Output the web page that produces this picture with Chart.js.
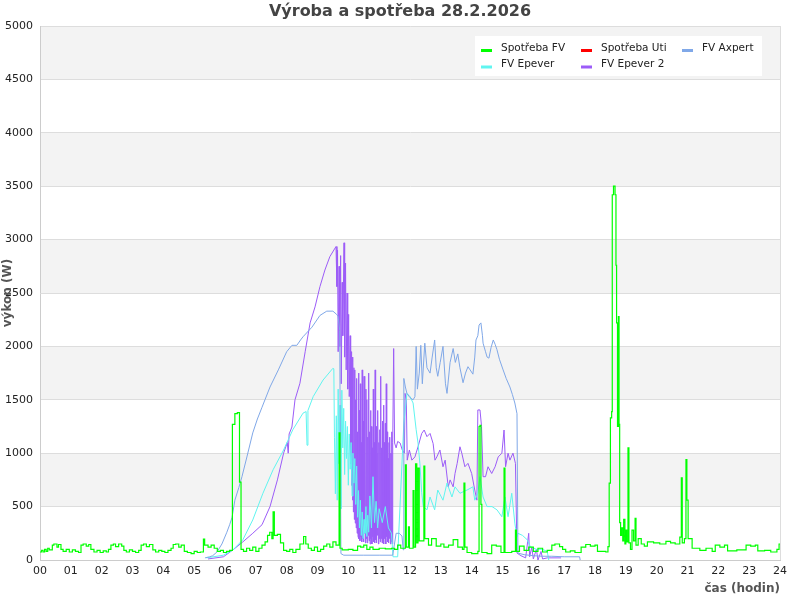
<!DOCTYPE html>
<html lang="cs">
<head>
<meta charset="utf-8">
<title>Výroba a spotřeba 28.2.2026</title>
<script src="https://cdn.jsdelivr.net/npm/chart.js@4.4.1/dist/chart.umd.min.js"></script>
<style>
  html, body { margin: 0; padding: 0; background: #fff; }
  #myChart { display: block; }
</style>
</head>
<body>
<canvas id="myChart" width="800" height="600"></canvas>
<script>
const ctx = document.querySelector('#myChart');

const CHART_TITLE = 'Výroba a spotřeba 28.2.2026';
const Y_TITLE = 'výkon (W)';
const X_TITLE = 'čas (hodin)';

const hourLabels = ['00', '01', '02', '03', '04', '05', '06', '07', '08', '09', '10', '11', '12',
  '13', '14', '15', '16', '17', '18', '19', '20', '21', '22', '23', '24'];

const seriesLabels = ['Spotřeba FV', 'Spotřeba Uti', 'FV Axpert', 'FV Epever', 'FV Epever 2'];

// Spotřeba FV (time in hours, W)
const fvTimes = [
  0.00, 0.05, 0.10, 0.15, 0.20, 0.25, 0.30, 0.40, 0.45, 0.55,
  0.60, 0.68, 0.75, 0.85, 0.95, 1.05, 1.15, 1.25, 1.33, 1.40,
  1.50, 1.58, 1.65, 1.75, 1.85, 1.95, 2.05, 2.15, 2.22, 2.30,
  2.38, 2.45, 2.55, 2.65, 2.72, 2.80, 2.90, 3.00, 3.10, 3.20,
  3.28, 3.36, 3.45, 3.55, 3.66, 3.75, 3.85, 3.95, 4.05, 4.15,
  4.25, 4.32, 4.40, 4.50, 4.58, 4.68, 4.78, 4.90, 5.00, 5.10,
  5.20, 5.30, 5.34, 5.45, 5.55, 5.65, 5.75, 5.85, 5.95, 6.05,
  6.15, 6.24, 6.32, 6.40, 6.47, 6.52, 6.60, 6.70, 6.80, 6.90,
  7.00, 7.10, 7.20, 7.30, 7.38, 7.45, 7.52, 7.56, 7.60, 7.70,
  7.80, 7.90, 8.00, 8.10, 8.20, 8.30, 8.43, 8.55, 8.62, 8.70,
  8.80, 8.90, 9.00, 9.10, 9.20, 9.30, 9.40, 9.50, 9.60, 9.70,
  9.73, 9.80, 10.00, 10.15, 10.30, 10.40, 10.50, 10.60, 10.70, 10.80,
  11.00, 11.20, 11.40, 11.50, 11.60, 11.70, 11.85, 11.88, 11.95, 11.98,
  12.10, 12.13, 12.18, 12.22, 12.26, 12.30, 12.45, 12.48, 12.60, 12.70,
  12.85, 13.00, 13.10, 13.25, 13.40, 13.55, 13.70, 13.75, 13.78, 13.85,
  14.00, 14.20, 14.24, 14.27, 14.30, 14.33, 14.50, 14.65, 14.80, 14.95,
  15.05, 15.08, 15.30, 15.42, 15.45, 15.55, 15.70, 15.85, 16.00, 16.15,
  16.30, 16.45, 16.60, 16.70, 16.85, 16.95, 17.05, 17.20, 17.35, 17.55,
  17.70, 17.85, 18.00, 18.08, 18.35, 18.42, 18.46, 18.50, 18.54, 18.56,
  18.60, 18.65, 18.68, 18.70, 18.73, 18.76, 18.78, 18.80, 18.83, 18.86,
  18.90, 18.93, 18.97, 19.00, 19.03, 19.07, 19.10, 19.15, 19.20, 19.25,
  19.30, 19.33, 19.40, 19.50, 19.60, 19.70, 19.90, 20.10, 20.30, 20.45,
  20.60, 20.75, 20.80, 20.83, 20.90, 20.95, 20.98, 21.02, 21.15, 21.40,
  21.60, 21.80, 21.90, 22.05, 22.20, 22.30, 22.60, 22.90, 23.05, 23.20,
  23.28, 23.50, 23.70, 23.90, 23.97, 24.00,
];
const fvValues = [
  75, 90, 75, 100, 80, 110, 95, 140, 150, 120,
  145, 100, 80, 100, 75, 95, 80, 70, 140, 150,
  130, 145, 100, 75, 90, 70, 85, 75, 100, 140,
  150, 125, 150, 130, 90, 75, 95, 80, 70, 90,
  140, 150, 125, 145, 95, 75, 90, 80, 70, 90,
  110, 145, 150, 120, 140, 80, 70, 60, 80, 70,
  75, 196, 140, 120, 140, 110, 80, 90, 70, 80,
  90, 1270, 1370, 1380, 730, 100, 80, 110, 90, 120,
  80, 110, 140, 170, 230, 260, 200, 450, 230, 240,
  160, 90, 80, 100, 70, 100, 150, 220, 150, 110,
  90, 120, 80, 100, 130, 150, 120, 170, 140, 1190,
  110, 95, 100, 90, 130, 120, 140, 100, 120, 100,
  110, 105, 110, 100, 140, 110, 890, 120, 310, 110,
  650, 120, 900, 160, 860, 180, 880, 200, 140, 200,
  130, 150, 120, 140, 190, 120, 100, 720, 120, 70,
  60, 80, 1250, 1260, 520, 70, 60, 140, 130, 70,
  860, 70, 80, 280, 80, 130, 90, 120, 80, 110,
  75, 90, 140, 150, 125, 100, 75, 85, 70, 120,
  145, 130, 140, 80, 75, 125, 720, 1330, 1390, 3420,
  3500, 3420, 2760, 2220, 1250, 2280, 1270, 350, 230, 300,
  180, 380, 150, 280, 170, 1050, 160, 100, 280, 180,
  390, 140, 200, 150, 130, 170, 160, 150, 175, 160,
  150, 215, 770, 160, 200, 940, 560, 200, 110, 90,
  110, 80, 140, 120, 140, 85, 95, 140, 130, 140,
  85, 90, 75, 100, 150, 150,
];

// Spotřeba Uti has no readings this day
const utiTimes = [];
const utiValues = [];

// FV Axpert
const axpertTimes = [
  5.35, 5.50, 5.60, 5.74, 5.90, 6.06, 6.15, 6.23, 6.32, 6.45,
  6.55, 6.71, 6.90, 7.05, 7.20, 7.46, 7.73, 8.00, 8.17, 8.33,
  8.45, 8.53, 8.82, 9.08, 9.30, 9.50, 9.62, 9.67, 9.72, 9.76,
  9.85, 10.50, 11.00, 11.44, 11.48, 11.55, 11.65, 11.74, 11.78, 11.80,
  11.85, 11.90, 12.00, 12.10, 12.16, 12.20, 12.24, 12.30, 12.35, 12.40,
  12.48, 12.55, 12.65, 12.72, 12.80, 12.85, 12.90, 12.98, 13.07, 13.15,
  13.20, 13.30, 13.40, 13.47, 13.55, 13.62, 13.72, 13.80, 13.88, 13.95,
  14.04, 14.10, 14.14, 14.20, 14.24, 14.30, 14.35, 14.37, 14.45, 14.50,
  14.56, 14.63, 14.70, 14.76, 14.82, 14.90, 15.02, 15.12, 15.24, 15.32,
  15.40, 15.47, 15.50, 15.70, 16.00, 16.30, 16.60, 17.00, 17.50, 17.52,
];
const axpertValues = [
  20, 30, 40, 75, 150, 260, 330, 400, 560, 680,
  780, 965, 1190, 1320, 1430, 1620, 1780, 1950, 2010, 2010,
  2060, 2090, 2180, 2290, 2330, 2330, 2300, 2280, 2150, 60,
  45, 45, 45, 45, 120, 250, 250, 225, 95, 1700,
  1620, 1560, 1520, 1500, 1530, 2000, 1600, 1750, 2010, 1650,
  2030, 1800, 1750, 1900, 2060, 1800, 1720, 1850, 2000, 1650,
  1560, 1850, 1980, 1850, 1930, 1800, 1660, 1750, 1810, 1780,
  1740, 1900, 2060, 2100, 2200, 2220, 2100, 2030, 1950, 1900,
  1890, 1990, 2060, 2020, 1970, 1880, 1780, 1700, 1620, 1550,
  1470, 1370, 65, 50, 40, 35, 35, 30, 30, 0,
];

// FV Epever
const epeverTimes = [
  5.40, 5.95, 6.26, 6.58, 6.90, 7.23, 7.56, 7.90, 8.20, 8.53,
  8.63, 8.66, 8.69, 8.86, 9.18, 9.50, 9.53, 9.55, 9.58, 9.61,
  9.64, 9.67, 9.70, 9.73, 9.76, 9.79, 9.82, 9.85, 9.88, 9.91,
  9.94, 9.97, 10.00, 10.03, 10.06, 10.09, 10.12, 10.15, 10.18, 10.21,
  10.24, 10.27, 10.30, 10.33, 10.36, 10.39, 10.42, 10.45, 10.48, 10.51,
  10.54, 10.57, 10.60, 10.63, 10.66, 10.70, 10.75, 10.80, 10.85, 10.90,
  10.95, 11.00, 11.10, 11.20, 11.30, 11.40, 11.45, 11.60, 11.80, 11.90,
  12.00, 12.10, 12.20, 12.26, 12.32, 12.38, 12.43, 12.55, 12.65, 12.80,
  12.90, 13.07, 13.20, 13.36, 13.46, 13.62, 13.85, 14.04, 14.10, 14.20,
  14.27, 14.37, 14.50, 14.66, 14.82, 14.98, 15.08, 15.18, 15.30, 15.40,
  15.47, 15.50, 15.65, 15.80, 15.90, 16.10, 16.30, 16.45, 16.50,
];
const epeverValues = [
  20, 45, 95, 190, 375, 625, 845, 1030, 1220, 1375,
  1390, 1075, 1400, 1530, 1685, 1795, 1790, 1150, 620, 1350,
  560, 1600, 900, 1450, 480, 1590, 1050, 1420, 800, 1300,
  950, 1250, 700, 1180, 850, 1100, 600, 1000, 720, 950,
  520, 880, 400, 650, 300, 560, 230, 450, 200, 380,
  250, 500, 220, 420, 260, 600, 300, 780, 350, 550,
  300, 480, 350, 500, 300, 250, 30, 30, 1280, 1560,
  1530, 1470, 1220, 1095, 905, 630, 500, 470, 590, 470,
  655, 560, 720, 590, 685, 625, 655, 685, 560, 625,
  780, 590, 500, 500, 470, 405, 590, 405, 625, 345,
  215, 250, 230, 190, 125, 100, 100, 80, 0,
];

// FV Epever 2
const epever2Times = [
  5.45, 5.95, 6.26, 6.58, 6.90, 7.20, 7.46, 7.70, 7.90, 8.02,
  8.05, 8.08, 8.17, 8.27, 8.43, 8.60, 8.76, 8.92, 9.08, 9.24,
  9.40, 9.60, 9.63, 9.65, 9.67, 9.70, 9.72, 9.75, 9.77, 9.80,
  9.82, 9.86, 9.88, 9.91, 9.93, 9.96, 9.98, 10.01, 10.03,
  10.060, 10.075, 10.090, 10.105, 10.120, 10.135, 10.150, 10.165, 10.180, 10.195,
  10.210, 10.225, 10.240, 10.255, 10.270, 10.285, 10.300, 10.315, 10.330, 10.345,
  10.360, 10.375, 10.390, 10.405, 10.420, 10.435, 10.450, 10.465, 10.480, 10.495,
  10.510, 10.525, 10.540, 10.555, 10.570, 10.585, 10.600, 10.615, 10.630, 10.645,
  10.660, 10.675, 10.690, 10.705, 10.720, 10.735, 10.750, 10.765, 10.780, 10.795,
  10.810, 10.825, 10.840, 10.855, 10.870, 10.885, 10.900, 10.915, 10.930, 10.945,
  10.960, 10.975, 10.990, 11.005, 11.020, 11.035, 11.050, 11.065, 11.080, 11.095,
  11.110, 11.125, 11.140, 11.155, 11.170, 11.185, 11.200, 11.215, 11.230, 11.245,
  11.260, 11.275, 11.290, 11.305, 11.320, 11.335, 11.350, 11.365, 11.380, 11.395,
  11.410, 11.425, 11.440,
  11.47, 11.50, 11.55, 11.60, 11.68, 11.75, 11.82, 11.84, 11.88, 11.91,
  11.98, 12.06, 12.16, 12.26, 12.38, 12.46, 12.55, 12.65, 12.75, 12.81,
  12.87, 12.97, 13.07, 13.14, 13.24, 13.30, 13.40, 13.46, 13.53, 13.62,
  13.68, 13.78, 13.88, 14.00, 14.10, 14.17, 14.20, 14.27, 14.32, 14.37,
  14.45, 14.53, 14.65, 14.76, 14.86, 14.98, 15.05, 15.10, 15.18, 15.24,
  15.34, 15.42, 15.47, 15.60, 15.75, 15.85, 15.88, 15.95, 16.00, 16.10,
  16.15, 16.25, 16.30, 16.45, 16.90,
];
const epever2Values = [
  10, 30, 95, 170, 250, 330, 500, 750, 1000, 1100,
  1000, 1180, 1245, 1500, 1655, 1950, 2220, 2370, 2560, 2715,
  2840, 2935, 2560, 2900, 1950, 2750, 2000, 2850, 1650, 2600,
  2100, 2970, 1900, 2780, 1780, 2500, 1600, 2300, 1530,
  2100, 900, 1950, 700, 1900, 560, 1850, 450, 1800, 380,
  1780, 345, 1500, 300, 1700, 250, 1200, 220, 1750, 200,
  1400, 180, 1650, 220, 1100, 170, 1780, 200, 1300, 170,
  1720, 250, 1000, 160, 1600, 200, 1500, 160, 1150, 230,
  1750, 180, 1200, 150, 1400, 200, 1250, 150, 1050, 220,
  1600, 170, 1100, 160, 1780, 190, 1250, 160, 1000, 230,
  1400, 150, 1100, 200, 1220, 170, 1720, 200, 1050, 160,
  1300, 180, 1450, 150, 1100, 200, 1280, 150, 1650, 220,
  1200, 170, 950, 160, 1100, 200, 1150, 150, 1000, 170,
  1200, 150, 1100,
  1980, 1095, 1050, 1110, 1095, 1030, 1000, 1560, 1500, 935,
  1030, 935, 965, 1060, 1185, 1217, 1155, 1185, 1090, 935,
  965, 1030, 873, 935, 685, 750, 685, 810, 905, 1060,
  1000, 873, 905, 810, 655, 560, 1405, 1405, 1250, 780,
  780, 873, 810, 873, 965, 1000, 1217, 873, 1000, 935,
  1000, 905, 65, 40, 20, 250, 30, 120, 10, 100,
  0, 80, 10, 20, 20,
];

const COLOR_FV = '#00ff00';
const COLOR_UTI = '#ff0000';
const COLOR_AXPERT = '#80a8e8';
const COLOR_EPEVER = '#60f5f0';
const COLOR_EPEVER2 = '#9c5cf8';
const COLOR_BAND = '#f3f3f3';
const COLOR_GRID = '#dddddd';
const COLOR_AXIS = '#cccccc';
const COLOR_TEXT = '#222222';
const COLOR_TITLE = '#444444';
const COLOR_AXIS_TITLE = '#555555';

const FONT_FAMILY = '"DejaVu Sans", sans-serif';
const Y_MAX = 5000;
const Y_STEP = 500;

const LEGEND_BOX = {x: 475, y: 36, w: 287, h: 40};
const LEGEND_COLUMNS = [481, 581, 682];
const LEGEND_ROWS = [48, 64.5];

/**
 * Joins a list of times and a list of values into chart points.
 * @param {number[]} times Hours of the day.
 * @param {number[]} values Power in W.
 * @return {Object[]} Points for the line dataset.
 */
function toPoints(times, values) {
  return times.map((t, i) => ({x: t, y: values[i]}));
}

// grey / white bands behind the plot, every 500 W
const bandsPlugin = {
  id: 'bands',
  beforeDraw(chart) {
    const {ctx, chartArea, scales} = chart;
    ctx.save();
    ctx.fillStyle = '#ffffff';
    ctx.fillRect(0, 0, chart.width, chart.height);
    ctx.fillStyle = COLOR_BAND;
    for (let v = 0; v < Y_MAX; v += Y_STEP) {
      if ((v / Y_STEP) % 2 === 1) {
        const top = scales.y.getPixelForValue(v + Y_STEP);
        const bottom = scales.y.getPixelForValue(v);
        ctx.fillRect(chartArea.left, top, chartArea.right - chartArea.left, bottom - top);
      }
    }
    ctx.restore();
  },
};

// title, y axis title, right border and the boxed legend
const decorPlugin = {
  id: 'decor',
  afterDraw(chart) {
    const {ctx, chartArea} = chart;
    ctx.save();

    ctx.strokeStyle = COLOR_GRID;
    ctx.lineWidth = 1;
    ctx.beginPath();
    ctx.moveTo(chartArea.right + 0.5, chartArea.top);
    ctx.lineTo(chartArea.right + 0.5, chartArea.bottom);
    ctx.stroke();

    ctx.fillStyle = COLOR_TITLE;
    ctx.font = 'bold 16px ' + FONT_FAMILY;
    ctx.textAlign = 'center';
    ctx.textBaseline = 'middle';
    ctx.fillText(CHART_TITLE, chart.width / 2, 12);

    ctx.save();
    ctx.translate(8, (chartArea.top + chartArea.bottom) / 2);
    ctx.rotate(-Math.PI / 2);
    ctx.fillStyle = COLOR_AXIS_TITLE;
    ctx.font = 'bold 12px ' + FONT_FAMILY;
    ctx.fillText(Y_TITLE, 0, 0);
    ctx.restore();

    ctx.fillStyle = '#ffffff';
    ctx.fillRect(LEGEND_BOX.x, LEGEND_BOX.y, LEGEND_BOX.w, LEGEND_BOX.h);
    ctx.font = '10.5px ' + FONT_FAMILY;
    ctx.textAlign = 'left';
    chart.data.datasets.forEach((ds, i) => {
      const x = LEGEND_COLUMNS[i % 3];
      const y = LEGEND_ROWS[Math.floor(i / 3)];
      ctx.strokeStyle = ds.borderColor;
      ctx.lineWidth = 3;
      ctx.beginPath();
      ctx.moveTo(x, y + 2.5);
      ctx.lineTo(x + 11, y + 2.5);
      ctx.stroke();
      ctx.fillStyle = COLOR_TEXT;
      ctx.fillText(ds.label, x + 20, y);
    });
    ctx.restore();
  },
};

/**
 * Builds the chart configuration.
 * @return {Object} Chart.js config.
 */
function getChartConfiguration() {
  return {
    type: 'line',
    data: {
      datasets: [
        {
          label: seriesLabels[0],
          data: toPoints(fvTimes, fvValues),
          borderColor: COLOR_FV,
          backgroundColor: COLOR_FV,
          borderWidth: 1.2,
          stepped: true,
        },
        {
          label: seriesLabels[1],
          data: toPoints(utiTimes, utiValues),
          borderColor: COLOR_UTI,
          backgroundColor: COLOR_UTI,
          borderWidth: 1,
        },
        {
          label: seriesLabels[2],
          data: toPoints(axpertTimes, axpertValues),
          borderColor: COLOR_AXPERT,
          backgroundColor: COLOR_AXPERT,
          borderWidth: 1,
        },
        {
          label: seriesLabels[3],
          data: toPoints(epeverTimes, epeverValues),
          borderColor: COLOR_EPEVER,
          backgroundColor: COLOR_EPEVER,
          borderWidth: 1,
        },
        {
          label: seriesLabels[4],
          data: toPoints(epever2Times, epever2Values),
          borderColor: COLOR_EPEVER2,
          backgroundColor: COLOR_EPEVER2,
          borderWidth: 1,
        },
      ],
    },
    options: {
      responsive: false,
      animation: false,
      elements: {
        point: {radius: 0},
        line: {tension: 0},
      },
      layout: {
        padding: {top: 26, right: 20, bottom: 0, left: 0},
      },
      plugins: {
        legend: {display: false},
        title: {display: false},
        tooltip: {enabled: false},
      },
      scales: {
        x: {
          type: 'linear',
          min: 0,
          max: 24,
          afterFit: (scale) => {
            scale.height = 40;
          },
          grid: {display: false, drawTicks: false},
          border: {display: true, color: COLOR_AXIS},
          ticks: {
            stepSize: 1,
            autoSkip: false,
            maxRotation: 0,
            padding: 5,
            color: COLOR_TEXT,
            font: {family: FONT_FAMILY, size: 11},
            callback: (value) => hourLabels[value],
          },
          title: {
            display: true,
            text: X_TITLE,
            align: 'end',
            color: COLOR_AXIS_TITLE,
            font: {family: FONT_FAMILY, size: 12, weight: 'bold'},
          },
        },
        y: {
          type: 'linear',
          min: 0,
          max: Y_MAX,
          afterFit: (scale) => {
            scale.width = 40;
          },
          grid: {color: COLOR_GRID, drawTicks: false},
          border: {display: true, color: COLOR_AXIS},
          ticks: {
            stepSize: Y_STEP,
            padding: 7,
            color: COLOR_TEXT,
            font: {family: FONT_FAMILY, size: 11},
            callback: (value) => String(value),
          },
        },
      },
    },
    plugins: [bandsPlugin, decorPlugin],
  };
}

new Chart(ctx, getChartConfiguration());
</script>
</body>
</html>
